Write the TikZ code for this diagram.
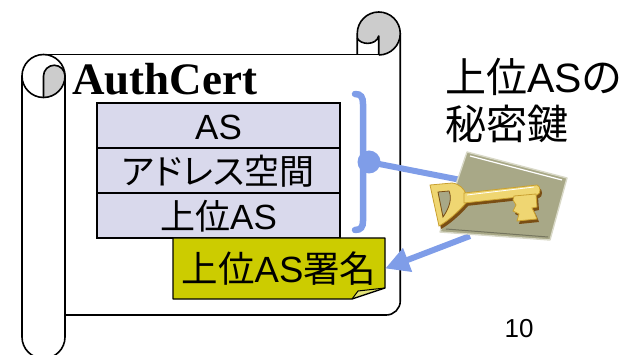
\documentclass[tikz,border=0pt]{standalone}
\usepackage{fontspec}
\setmainfont{Liberation Sans}
\newfontfamily\cjkfont{Noto Sans CJK JP}
\newfontfamily\cjkprop{Noto Sans CJK JP}[RawFeature=+palt]
\newfontfamily\titlefont{Liberation Serif}
\newcommand\ja[1]{{\cjkfont #1}}
\usetikzlibrary{arrows.meta}
\definecolor{fieldfill}{HTML}{D9D9EC}
\definecolor{sigfill}{HTML}{CCCC00}
\definecolor{flapfill}{HTML}{E2E27A}
\definecolor{linkblue}{HTML}{7F9DE8}
\definecolor{rollgray}{HTML}{CCCCCC}
\definecolor{cardfill}{HTML}{A8A887}
\definecolor{cardedge}{HTML}{D9D9C8}
\definecolor{keygold}{HTML}{EFD672}
\definecolor{keydark}{HTML}{C9A030}
\definecolor{keybrown}{HTML}{7A4E14}
\begin{document}
\begin{tikzpicture}[x=1pt,y=-1pt,
  sheet/.style={draw=black,line width=1.6pt,line join=round},
  field/.style={draw=black,line width=1.3pt,fill=fieldfill,minimum width=243pt,
    minimum height=45pt,inner sep=0pt,text height=28pt,text depth=0pt,
    font=\fontsize{35}{38}\selectfont},
  label/.style={inner sep=0pt,anchor=base west,font=\fontsize{41}{46}\selectfont},
  bluelink/.style={draw=linkblue,line width=6pt},
]
\useasboundingbox (0,0) rectangle (626,355);

% scroll: left roll
\fill[rollgray] (43.5,97.5) -- (43.5,76) arc[start angle=180,end angle=360,radius=10.75]
  arc[start angle=0,end angle=90,radius=21.5] -- cycle;
\draw[sheet] (43.5,76) circle[radius=21.5];
\draw[sheet] (43.5,97.5) -- (43.5,76) arc[start angle=180,end angle=360,radius=10.75];
\draw[sheet] (22,76) -- (22,337) arc[start angle=180,end angle=0,radius=21.5] -- (65,76);
% scroll: sheet edges
\draw[sheet] (43.5,54.5) -- (378.75,54.5);
\draw[sheet] (400.25,33.5) -- (400.25,301) arc[start angle=0,end angle=90,radius=14] -- (65,315);
% scroll: right roll
\fill[rollgray] (357.25,38) -- (357.25,33.5) arc[start angle=180,end angle=450,radius=21.5]
  -- (378.75,36) .. controls (376,46) and (360,45) .. (357.25,38) -- cycle;
\draw[sheet] (357.25,54.5) -- (357.25,33.5) arc[start angle=180,end angle=450,radius=21.5];
\draw[sheet] (357.25,38) .. controls (360,45) and (376,46) .. (378.75,36) -- (378.75,55);

% title
\node[inner sep=0pt,anchor=base west,font=\titlefont\bfseries\fontsize{45}{50}\selectfont]
  (title) at (72,95) {AuthCert};

% certificate fields
\node[field] (f1) at (218.5,125.5) {AS};
\node[field] (f2) at (218.5,170.5) {{\cjkprop アドレス空間}};
\node[field] (f3) at (218.5,215.5) {\ja{上位}AS};

% signature with folded corner
\fill[sigfill] (173,238) -- (385,238) -- (385,288) -- (352,299) -- (173,299) -- cycle;
\fill[flapfill] (352,299) -- (358,291) -- (385,288) -- cycle;
\draw[line width=1.3pt,line join=round] (173,238) -- (385,238) -- (385,288) -- (352,299) -- (173,299) -- cycle;
\draw[line width=1pt,line join=round] (352,299) -- (358,291) -- (385,288);
\node[inner sep=0pt,minimum width=212pt,minimum height=61pt,text height=29pt,text depth=0pt,
  font=\fontsize{36.5}{40}\selectfont] (sig) at (279,268.5) {\ja{上位}AS\ja{署名}};

% brace over the fields and its links
\coordinate (dot) at (369,162);
\coordinate (cardin) at (466,181);
\coordinate (cardout) at (470,236);
\draw[linkblue,line width=6.5pt,line cap=round]
  (355,94) .. controls (361,94) and (363,97) .. (363,104) -- (363,221)
  .. controls (363,227) and (361,230) .. (355,230);
\draw[bluelink] (dot) -- (cardin);
\fill[linkblue] (dot) circle[radius=11.5];
\draw[bluelink,-{Triangle[length=24pt,width=24pt]}] (cardout) -- (sig.east);

% key card
\fill[cardfill] (467,152) -- (567,178) -- (550,240) -- (440,232) -- cycle;
\draw[cardedge,line width=1.4pt,line join=round] (467,152) -- (567,178) -- (550,240) -- (440,232) -- cycle;
\draw[white,line width=1.2pt] (470,156) -- (562,180);
\draw[cardfill!70!black,line width=1pt] (446,229) -- (548,237);

% key: shadow
\begin{scope}[shift={(2,3)}]
\fill[keybrown] (430,185) -- (452,183) .. controls (460,184) and (464,189) .. (466,194)
  -- (466,203) .. controls (458,212) and (448,221) .. (439,226) -- cycle;
\fill[keybrown] (464,193) -- (537,185) .. controls (541,186) and (541,194) .. (537,195) -- (464,203) -- cycle;
\fill[keybrown] (514,196) -- (536,194) -- (537,207) -- (532,208) -- (535,214) -- (537,219)
  -- (517,221) -- (519,214) -- (513,211) -- (516,205) -- (513,200) -- cycle;
\end{scope}
% key: body
\fill[keygold,draw=keydark,line width=0.8pt] (430,185) -- (452,183) .. controls (460,184) and (464,189) .. (466,194)
  -- (466,203) .. controls (458,212) and (448,221) .. (439,226) -- cycle;
\fill[keygold,draw=keydark,line width=0.8pt] (464,193) -- (537,185) .. controls (541,186) and (541,194) .. (537,195) -- (464,203) -- cycle;
\fill[keygold,draw=keydark,line width=0.8pt] (514,196) -- (536,194) -- (537,207) -- (532,208) -- (535,214) -- (537,219)
  -- (517,221) -- (519,214) -- (513,211) -- (516,205) -- (513,200) -- cycle;
\fill[cardfill,draw=keybrown,line width=0.8pt] (438,192) -- (449,191) .. controls (452,198) and (450,207) .. (443,217) -- cycle;
\draw[white,line width=0.8pt] (467,195) -- (534,187);

% caption
\node[label] (cap1) at (445,93) {\ja{上位}AS\ja{の}};
\node[label] (cap2) at (445,140) {\ja{秘密鍵}};

% page number
\node[inner sep=0pt,anchor=base,font=\fontsize{26}{30}\selectfont] (page) at (519,337) {10};
\end{tikzpicture}
\end{document}
